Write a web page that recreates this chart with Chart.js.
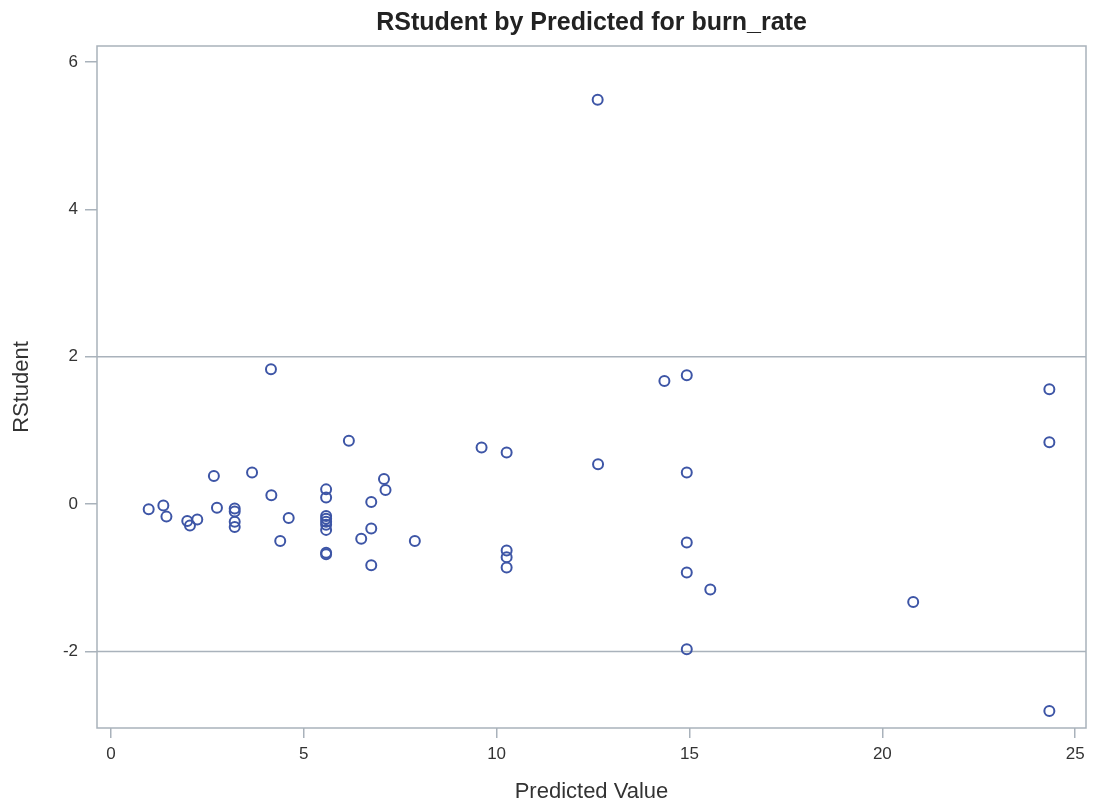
<!DOCTYPE html>
<html>
<head>
<meta charset="utf-8">
<title>RStudent by Predicted for burn_rate</title>
<script src="https://cdn.jsdelivr.net/npm/chart.js@4/dist/chart.umd.min.js"></script>
<style>
  html, body { margin: 0; padding: 0; background: #fff; }
  #wrap { width: 1093px; height: 808px; }
</style>
</head>
<body>
<div id="wrap"><canvas id="chart" width="1093" height="808"></canvas></div>
<script>
// ===============================
// Dados
// ===============================
const predicted = [
  0.98, 1.36, 1.44, 1.98, 2.05, 2.24, 2.67, 2.75, 3.21, 3.21,
  3.21, 3.21, 3.66, 4.15, 4.16, 4.39, 4.61, 5.58, 5.58, 5.58,
  5.58, 5.58, 5.58, 5.58, 5.58, 5.58, 6.17, 6.49, 6.75, 6.75,
  6.75, 7.08, 7.12, 7.88, 9.61, 10.26, 10.26, 10.26, 10.26, 12.62,
  12.63, 14.35, 14.93, 14.93, 14.93, 14.93, 14.93, 15.54, 20.80, 24.33,
  24.33, 24.33
];
const rstudent = [
  -0.07, -0.02, -0.17, -0.23, -0.29, -0.21, 0.38, -0.05, -0.06, -0.10,
  -0.24, -0.31, 0.43, 1.83, 0.12, -0.50, -0.19, 0.20, 0.09, -0.16,
  -0.20, -0.24, -0.28, -0.35, -0.66, -0.68, 0.86, -0.47, 0.03, -0.33,
  -0.83, 0.34, 0.19, -0.50, 0.77, 0.70, -0.63, -0.72, -0.86, 5.49,
  0.54, 1.67, 1.75, 0.43, -0.52, -0.93, -1.97, -1.16, -1.33, 1.56,
  0.84, -2.81
];
const xTicks = [0, 5, 10, 15, 20, 25];
const yTicks = [-2, 0, 2, 4, 6];
const refLines = [2, -2];

const titleText = "RStudent by Predicted for burn_rate";
const xTitle = "Predicted Value";
const yTitle = "RStudent";

// ===============================
// Helpers
// ===============================
const points = predicted.map((x, i) => ({ x, y: rstudent[i] }));
const FONT = "'Liberation Sans', Arial, sans-serif";
const frameColor = "#a9b2bb";
const textColor = "#333333";

// moldura + linhas de referência
const framePlugin = {
  id: "frame",
  beforeDatasetsDraw(chart) {
    const { ctx, chartArea: a, scales } = chart;
    ctx.save();
    ctx.strokeStyle = frameColor;
    ctx.lineWidth = 1.5;
    refLines.forEach(v => {
      const y = scales.y.getPixelForValue(v);
      ctx.beginPath();
      ctx.moveTo(a.left, y);
      ctx.lineTo(a.right, y);
      ctx.stroke();
    });
    ctx.strokeRect(a.left, a.top, a.right - a.left, a.bottom - a.top);
    ctx.restore();
  }
};

// título centrado na área do gráfico
const titlePlugin = {
  id: "centerTitle",
  afterDraw(chart) {
    const { ctx, chartArea: a } = chart;
    ctx.save();
    ctx.fillStyle = "#222";
    ctx.font = "bold 25px " + FONT;
    ctx.textAlign = "center";
    ctx.textBaseline = "middle";
    ctx.fillText(titleText, (a.left + a.right) / 2, 23);
    ctx.restore();
  }
};

const keepTicks = list => scale => {
  scale.ticks = list.map(v => ({ value: v }));
};

// ===============================
// Gráfico
// ===============================
new Chart(document.getElementById("chart").getContext("2d"), {
  type: "scatter",
  data: {
    datasets: [{
      label: "RStudent",
      data: points,
      pointStyle: "circle",
      pointRadius: 5,
      pointHoverRadius: 5,
      pointBorderWidth: 2,
      borderColor: "#3d55a6",
      backgroundColor: "rgba(0,0,0,0)"
    }]
  },
  options: {
    responsive: false,
    animation: false,
    layout: { padding: { top: 46, right: 6, left: 0, bottom: 0 } },
    plugins: {
      legend: { display: false },
      tooltip: { enabled: false },
      title: { display: false }
    },
    scales: {
      x: {
        type: "linear",
        min: -0.36,
        max: 25.28,
        afterBuildTicks: keepTicks(xTicks),
        afterFit: s => { s.height = 80; },
        border: { display: false },
        grid: { drawOnChartArea: false, drawTicks: true, tickLength: 10, color: frameColor, lineWidth: 1.5 },
        ticks: { color: textColor, padding: 6, font: { family: FONT, size: 17 }, maxRotation: 0 },
        title: { display: true, text: xTitle, color: textColor, padding: { top: 0, bottom: 3 }, font: { family: FONT, size: 22 } }
      },
      y: {
        type: "linear",
        min: -3.04,
        max: 6.22,
        afterBuildTicks: keepTicks(yTicks),
        afterFit: s => { s.width = 97; },
        border: { display: false },
        grid: { drawOnChartArea: false, drawTicks: true, tickLength: 12, color: frameColor, lineWidth: 1.5 },
        ticks: { color: textColor, padding: 7, font: { family: FONT, size: 17 } },
        title: { display: true, text: yTitle, color: textColor, padding: { top: 9, bottom: 0 }, font: { family: FONT, size: 22 } }
      }
    }
  },
  plugins: [framePlugin, titlePlugin]
});
</script>
</body>
</html>
